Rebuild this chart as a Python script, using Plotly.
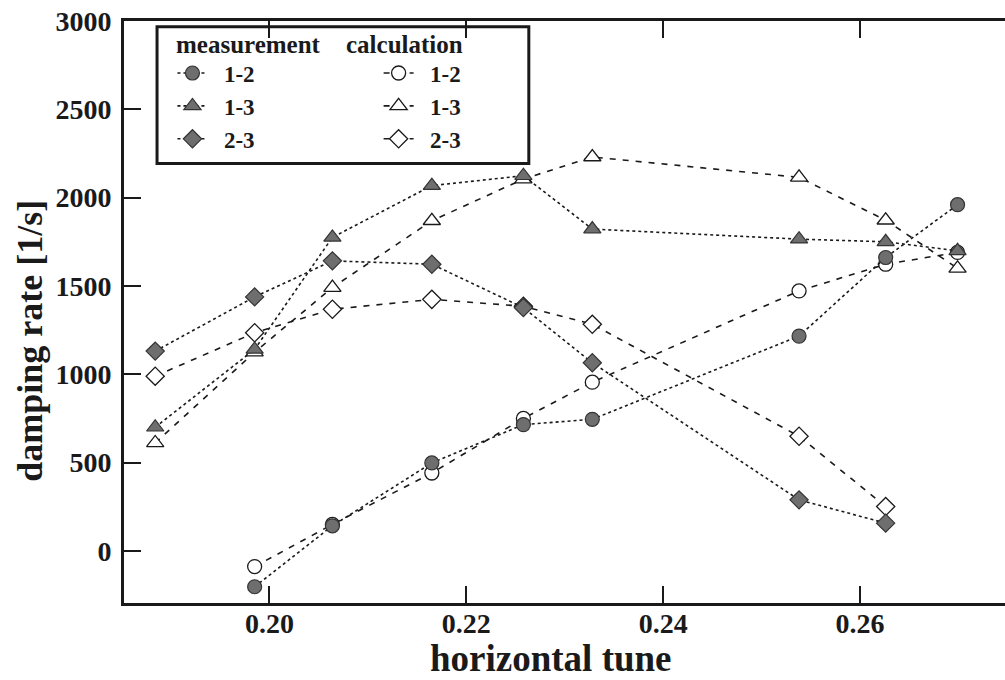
import plotly.graph_objects as go

# horizontal tune settings at which damping rates were taken
tune = [0.1884, 0.1985, 0.2064, 0.2165, 0.2258, 0.2328, 0.2538, 0.2626, 0.2699]

# measured damping rates [1/s]
meas_12 = [-203, 142, 498, 715, 745, 1216, 1661, 1960]          # tune[1:]
meas_13 = [700, 1141, 1775, 2068, 2124, 1822, 1765, 1750, 1699]  # tune
meas_23 = [1131, 1438, 1642, 1623, 1377, 1065, 289, 157]         # tune[:8]

# calculated damping rates [1/s]
calc_12 = [-89, 150, 441, 750, 955, 1472, 1623, 1690]            # tune[1:]
calc_13 = [611, 1125, 1491, 1869, 2105, 2230, 2115, 1872, 1600]  # tune
calc_23 = [989, 1235, 1368, 1424, 1385, 1283, 649, 251]          # tune[:8]

y_ticks = [0, 500, 1000, 1500, 2000, 2500, 3000]
x_ticks = [0.20, 0.22, 0.24, 0.26]

SERIF = "Liberation Serif"
INK = "#1a1a1a"
HALFTONE = "#6e6e6e"
MEAS_DASH = "3px,3px"
CALC_DASH = "6px,7px"
PAD = "\u00a0\u00a0"  # extra room between legend symbol and label

fig = go.Figure()

meas_series = [
    ("1-2", tune[1:], meas_12, "circle", 14),
    ("1-3", tune, meas_13, "triangle-up", 15),
    ("2-3", tune[:8], meas_23, "diamond", 14),
]
calc_series = [
    ("1-2", tune[1:], calc_12, "circle", 14),
    ("1-3", tune, calc_13, "triangle-up", 15),
    ("2-3", tune[:8], calc_23, "diamond", 14),
]

# calculated curves first so measured markers sit on top where they overlap
for i, (name, xs, ys, sym, size) in enumerate(calc_series):
    fig.add_trace(go.Scatter(
        x=xs, y=ys, name=PAD + name, mode="lines+markers",
        line=dict(color=INK, width=1.6, dash=CALC_DASH),
        marker=dict(symbol=sym, size=size, color="white",
                    line=dict(color=INK, width=1.3)),
        legend="legend2", legendgroup="c" + name, legendrank=i + 1,
    ))

for i, (name, xs, ys, sym, size) in enumerate(meas_series):
    fig.add_trace(go.Scatter(
        x=xs, y=ys, name=PAD + name, mode="lines+markers",
        line=dict(color=INK, width=1.6, dash=MEAS_DASH),
        marker=dict(symbol=sym, size=size, color=HALFTONE,
                    line=dict(color="#333333", width=1.2)),
        legend="legend", legendgroup="m" + name, legendrank=i + 1,
    ))

tick_font = dict(family=SERIF, size=28, color=INK, weight="bold")
leg_font = dict(family=SERIF, size=23, color=INK, weight="bold")
head_font = dict(family=SERIF, size=25, color=INK, weight="bold")

fig.update_layout(
    width=1005, height=680,
    margin=dict(l=124, r=0, t=21, b=77),
    paper_bgcolor="white", plot_bgcolor="white",
    showlegend=True,
    xaxis=dict(
        range=[0.18523, 0.27472], tickvals=x_ticks,
        ticktext=[f"{v:.2f}" for v in x_ticks],
        ticks="inside", ticklen=17, tickwidth=2, tickcolor=INK,
        showline=True, linewidth=3, linecolor=INK, mirror="ticks",
        showgrid=False, zeroline=False, tickfont=tick_font,
        ticklabelstandoff=-7,
    ),
    yaxis=dict(
        range=[-295, 3000], tickvals=y_ticks,
        ticks="inside", ticklen=17, tickwidth=2, tickcolor=INK,
        showline=True, linewidth=3, linecolor=INK,
        showgrid=False, zeroline=False, tickfont=tick_font,
        ticklabelstandoff=4,
    ),
    yaxis2=dict(
        overlaying="y", side="right", matches="y", range=[-295, 3000],
        tickvals=y_ticks, showticklabels=False,
        ticks="inside", ticklen=17, tickwidth=2, tickcolor=INK,
        showline=False, showgrid=False, zeroline=False,
    ),
    legend=dict(
        x=0.055, y=0.9475, xanchor="left", yanchor="top",
        font=leg_font, bgcolor="rgba(0,0,0,0)", borderwidth=0,
        tracegroupgap=0, traceorder="grouped",
    ),
    legend2=dict(
        x=0.289, y=0.9475, xanchor="left", yanchor="top",
        font=leg_font, bgcolor="rgba(0,0,0,0)", borderwidth=0,
        tracegroupgap=0, traceorder="grouped",
    ),
    shapes=[dict(
        type="rect", xref="paper", yref="paper",
        x0=0.0375, x1=0.4595, y0=0.755, y1=0.99,
        line=dict(color=INK, width=3), fillcolor="white", layer="below",
    )],
    annotations=[
        dict(text="measurement", xref="paper", yref="paper",
             x=0.057, y=0.960, xanchor="left", yanchor="middle",
             showarrow=False, font=head_font),
        dict(text="calculation", xref="paper", yref="paper",
             x=0.250, y=0.960, xanchor="left", yanchor="middle",
             showarrow=False, font=head_font),
        dict(text="horizontal tune", xref="paper", yref="paper",
             x=0.485, y=-0.095, xanchor="center", yanchor="middle",
             showarrow=False, font=dict(family=SERIF, size=37, color=INK, weight="bold")),
        dict(text="damping rate [1/s]", xref="paper", yref="paper",
             x=-0.107, y=0.45, xanchor="center", yanchor="middle", textangle=-90,
             showarrow=False, font=dict(family=SERIF, size=36, color=INK, weight="bold")),
    ],
)

fig.write_html("out.html")
